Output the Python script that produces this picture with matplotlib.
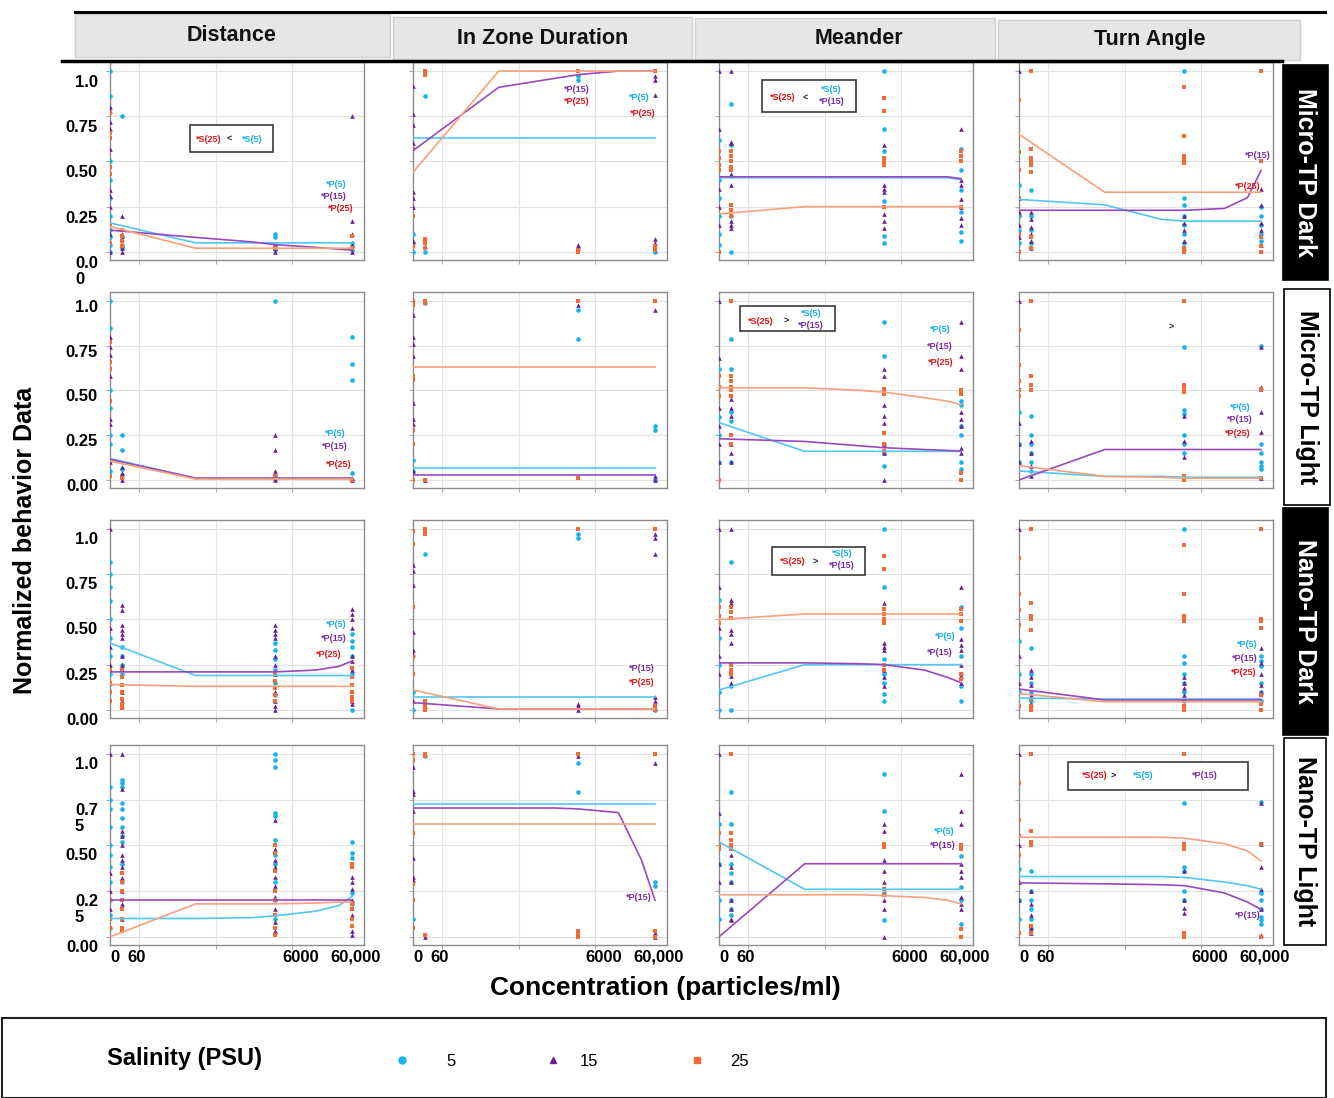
import matplotlib
matplotlib.use("Agg")
import matplotlib.pyplot as plt
import matplotlib.transforms as mtransforms
from matplotlib.patches import Rectangle
from matplotlib.lines import Line2D
from matplotlib.ticker import FixedLocator, NullLocator

plt.rcParams['font.family'] = ['Liberation Sans', 'DejaVu Sans']

W, H = 1334, 1098

# concentrations (particles/ml)
conc = [0, 60, 6000, 60000]
x_ticklabels = ['0', '60', '6000', '60,000']
# x where the fitted curves are read
fit_x = [0, 550, 3000, 6000, 20000, 40000, 60000]

salinity = [5, 15, 25]
rows = ['md', 'ml', 'nd', 'nl']
cols = ['dist', 'izd', 'mea', 'turn']
row_names = ['Micro-TP Dark', 'Micro-TP Light', 'Nano-TP Dark', 'Nano-TP Light']
col_names = ['Distance', 'In Zone Duration', 'Meander', 'Turn Angle']

# ---- points: one list per concentration (0, 60, 6000, 60000) ----
# Micro-TP Dark
md_dist_s5 = [[1.0, 0.86, 0.5, 0.4, 0.3, 0.2, 0.12, 0.08, 0.04, 0.0], [0.75, 0.08, 0.04, 0.02], [0.1, 0.08, 0.03, 0.01], [0.05, 0.03, 0.01]]
md_dist_s15 = [[0.8, 0.78, 0.72, 0.68, 0.57, 0.34, 0.31, 0.25, 0.1, 0.0], [0.2, 0.1, 0.07, 0.04, 0.02, 0.0], [0.04, 0.02, 0.0], [0.75, 0.17, 0.1, 0.04, 0.0]]
md_dist_s25 = [[0.77, 0.66, 0.63, 0.47, 0.43, 0.15, 0.05], [0.12, 0.09, 0.06, 0.03], [0.02], [0.09, 0.02]]
md_izd_s5 = [[0.1, 0.05, 0.0], [0.86, 0.0], [0.97, 0.95], [0.0]]
md_izd_s15 = [[0.92, 0.76, 0.7, 0.6, 0.33, 0.3, 0.25, 0.06], [0.03], [0.04, 0.03, 0.02], [0.97, 0.95, 0.87, 0.07, 0.05]]
md_izd_s25 = [[0.57, 0.2, 0.03], [1.0, 0.99, 0.98, 0.07, 0.05, 0.02], [1.0, 0.01, 0.0], [1.0, 0.03, 0.01]]
md_mea_s5 = [[0.62, 0.4, 0.3, 0.2, 0.1, 0.04], [0.82, 0.59, 0.2, 0.0], [1.0, 0.68, 0.56, 0.28, 0.09, 0.05], [0.57, 0.45, 0.34, 0.22, 0.11, 0.06]]
md_mea_s15 = [[1.0, 0.68, 0.35, 0.25, 0.15], [1.0, 0.61, 0.6, 0.43, 0.37, 0.17, 0.15, 0.13], [0.59, 0.37, 0.35, 0.33, 0.21, 0.17, 0.13], [0.68, 0.4, 0.37, 0.29, 0.25, 0.19, 0.15]]
md_mea_s25 = [[0.56, 0.52, 0.48, 0.45, 0.0], [0.56, 0.53, 0.5, 0.47, 0.45, 0.26, 0.23, 0.2], [0.85, 0.78, 0.52, 0.5, 0.48, 0.25], [0.56, 0.53, 0.5, 0.25]]
md_turn_s5 = [[0.37, 0.2, 0.12, 0.05], [0.34, 0.2, 0.12, 0.05], [1.0, 0.3, 0.26, 0.2, 0.15, 0.1, 0.05], [0.25, 0.2, 0.15, 0.1, 0.06]]
md_turn_s15 = [[1.0, 0.3, 0.22, 0.15, 0.08], [0.22, 0.18, 0.14, 0.1, 0.06, 0.02], [0.2, 0.16, 0.12, 0.06, 0.02], [0.35, 0.26, 0.16, 0.12, 0.04]]
md_turn_s25 = [[0.84, 0.55, 0.45, 0.3, 0.1, 0.0], [1.0, 0.57, 0.52, 0.5, 0.48, 0.44, 0.08, 0.02], [0.91, 0.64, 0.53, 0.51, 0.49, 0.02, 0.0], [1.0, 0.5, 0.08, 0.03, 0.0]]
# Micro-TP Light
ml_dist_s5 = [[1.0, 0.85, 0.5, 0.4, 0.25, 0.2, 0.05], [0.25, 0.17, 0.06, 0.03], [1.0, 0.03], [0.8, 0.65, 0.56, 0.04, 0.0]]
ml_dist_s15 = [[0.8, 0.74, 0.7, 0.58, 0.34, 0.31, 0.1], [0.07, 0.04, 0.02, 0.0], [0.25, 0.17, 0.05, 0.03, 0.01, 0.0], [0.01, 0.0]]
ml_dist_s25 = [[0.77, 0.66, 0.62, 0.44, 0.02], [0.01], [0.02], [0.0]]
ml_izd_s5 = [[0.11, 0.05], [0.99], [0.95, 0.79], [0.3, 0.28, 0.0]]
ml_izd_s15 = [[0.92, 0.8, 0.76, 0.69, 0.43, 0.34, 0.31, 0.05], [0.0], [0.98], [0.95, 0.02, 0.0]]
ml_izd_s25 = [[1.0, 0.98, 0.58, 0.56, 0.28, 0.2, 0.0], [1.0, 0.99, 0.0], [1.0, 0.01], [1.0]]
ml_mea_s5 = [[0.62, 0.35, 0.25, 0.1], [0.79, 0.62, 0.38, 0.33, 0.1], [0.88, 0.69, 0.2, 0.15, 0.08], [0.44, 0.42, 0.3, 0.25, 0.1, 0.06]]
ml_mea_s15 = [[1.0, 0.68, 0.4, 0.3, 0.2, 0.1], [0.45, 0.4, 0.36, 0.2, 0.15, 0.1], [0.62, 0.58, 0.42, 0.36, 0.32, 0.2, 0.15, 0.0], [0.88, 0.69, 0.62, 0.38, 0.34, 0.3, 0.18, 0.15]]
ml_mea_s25 = [[0.58, 0.52, 0.47, 0.0], [1.0, 0.58, 0.55, 0.52, 0.5, 0.47, 0.25, 0.2], [0.51, 0.5, 0.48, 0.26, 0.2, 0.16], [0.5, 0.48, 0.04, 0.0]]
ml_turn_s5 = [[0.38, 0.2, 0.1], [0.36, 0.25, 0.2, 0.15, 0.1, 0.05], [0.74, 0.39, 0.37, 0.25, 0.2, 0.15], [0.75, 0.2, 0.15, 0.1, 0.08, 0.06]]
ml_turn_s15 = [[1.0, 0.32, 0.2, 0.1], [0.22, 0.15, 0.08, 0.02], [0.36, 0.22, 0.13], [0.74, 0.52, 0.38, 0.27, 0.01]]
ml_turn_s25 = [[0.84, 0.64, 0.55, 0.5, 0.47], [1.0, 0.58, 0.53, 0.5], [1.0, 0.53, 0.51, 0.49, 0.02, 0.0], [0.51, 0.5, 0.01]]
# Nano-TP Dark
nd_dist_s5 = [[0.82, 0.75, 0.68, 0.6, 0.5, 0.4, 0.3, 0.2], [0.35, 0.3, 0.25, 0.2], [0.37, 0.33, 0.28, 0.22, 0.15, 0.08], [0.42, 0.38, 0.35, 0.3, 0.2, 0.0]]
nd_dist_s15 = [[1.0, 0.45, 0.35, 0.25, 0.15], [0.58, 0.55, 0.47, 0.44, 0.42, 0.4, 0.3, 0.25, 0.1, 0.05, 0.02], [0.47, 0.44, 0.42, 0.4, 0.3, 0.25, 0.2, 0.1, 0.05, 0.02, 0.0], [0.56, 0.53, 0.5, 0.45, 0.3, 0.27, 0.22, 0.05, 0.03]]
nd_dist_s25 = [[0.22, 0.15, 0.1, 0.05], [0.22, 0.18, 0.14, 0.1, 0.06, 0.03, 0.01], [0.2, 0.16, 0.12, 0.08, 0.05], [0.23, 0.18, 0.14, 0.1, 0.07, 0.05]]
nd_izd_s5 = [[0.1, 0.0], [0.86], [0.97, 0.95], [0.0]]
nd_izd_s15 = [[0.8, 0.77, 0.69, 0.43, 0.33, 0.31, 0.05], [0.02], [0.03, 0.02, 0.0], [0.97, 0.95, 0.86, 0.07, 0.05]]
nd_izd_s25 = [[0.99, 0.92, 0.57, 0.29, 0.2], [1.0, 0.99, 0.98, 0.97, 0.05, 0.02, 0.0], [1.0], [1.0, 0.02, 0.0]]
nd_mea_s5 = [[0.61, 0.4, 0.25, 0.1, 0.0], [0.82, 0.13, 0.0], [1.0, 0.68, 0.28, 0.2, 0.15, 0.09, 0.05], [0.57, 0.45, 0.3, 0.2, 0.13, 0.05]]
nd_mea_s15 = [[1.0, 0.68, 0.45, 0.3, 0.2], [1.0, 0.61, 0.59, 0.44, 0.42, 0.37, 0.19, 0.15], [0.59, 0.37, 0.35, 0.33, 0.22, 0.18, 0.13], [0.68, 0.39, 0.36, 0.33, 0.25, 0.19, 0.15]]
nd_mea_s25 = [[0.57, 0.52, 0.48], [0.57, 0.54, 0.51, 0.25, 0.22, 0.2], [0.85, 0.78, 0.56, 0.53, 0.5, 0.48, 0.25, 0.22], [0.56, 0.53, 0.49, 0.2, 0.17]]
nd_turn_s5 = [[0.38, 0.2, 0.1], [0.34, 0.2, 0.15, 0.1, 0.05], [1.0, 0.3, 0.26, 0.2, 0.15, 0.1, 0.05], [0.3, 0.27, 0.24, 0.15, 0.1, 0.05]]
nd_turn_s15 = [[1.0, 0.3, 0.15], [0.22, 0.18, 0.14, 0.08, 0.03], [0.18, 0.15, 0.12, 0.08], [0.34, 0.26, 0.2, 0.14, 0.1]]
nd_turn_s25 = [[0.84, 0.64, 0.55, 0.47, 0.02], [1.0, 0.59, 0.52, 0.5, 0.44, 0.06, 0.02, 0.0], [0.91, 0.64, 0.52, 0.5, 0.49, 0.05, 0.02, 0.0], [1.0, 0.5, 0.49, 0.45, 0.08, 0.03, 0.0]]
# Nano-TP Light
nl_dist_s5 = [[0.82, 0.75, 0.7, 0.6, 0.5, 0.45, 0.38, 0.3, 0.2, 0.12, 0.05], [0.86, 0.84, 0.82, 0.73, 0.7, 0.65, 0.6, 0.55, 0.52, 0.4, 0.3], [1.0, 0.97, 0.93, 0.68, 0.66, 0.53, 0.45, 0.4, 0.3, 0.2, 0.1], [0.52, 0.46, 0.43, 0.24, 0.18]]
nl_dist_s15 = [[1.0, 0.35, 0.25, 0.15], [1.0, 0.81, 0.58, 0.55, 0.5, 0.45, 0.42, 0.38, 0.32, 0.25, 0.18, 0.1, 0.04], [0.64, 0.48, 0.42, 0.38, 0.33, 0.28, 0.22, 0.15, 0.08, 0.03], [0.33, 0.3, 0.26, 0.2, 0.12, 0.03, 0.01]]
nl_dist_s25 = [[0.2, 0.1, 0.05], [0.35, 0.3, 0.25, 0.2, 0.15, 0.1, 0.05, 0.03], [0.5, 0.46, 0.36, 0.25, 0.2, 0.12, 0.05, 0.01], [0.4, 0.38, 0.18, 0.15, 0.1, 0.06]]
nl_izd_s5 = [[0.1], [0.99], [0.95, 0.79], [0.3, 0.28]]
nl_izd_s15 = [[0.93, 0.8, 0.78, 0.69, 0.43, 0.33, 0.31], [0.0], [0.99], [0.95, 0.02, 0.0]]
nl_izd_s25 = [[1.0, 0.97, 0.57, 0.29, 0.2, 0.05], [1.0, 0.99, 0.01], [1.0, 0.03, 0.01, 0.0], [1.0, 0.03, 0.0]]
nl_mea_s5 = [[0.62, 0.4, 0.2, 0.1], [0.79, 0.62, 0.4, 0.35, 0.3, 0.2, 0.15, 0.12], [0.89, 0.69, 0.24, 0.09], [0.44, 0.27, 0.2, 0.07]]
nl_mea_s15 = [[1.0, 0.68, 0.4, 0.3], [0.45, 0.38, 0.3, 0.2, 0.15, 0.1, 0.09], [0.62, 0.58, 0.42, 0.36, 0.3, 0.2, 0.15, 0.0], [0.89, 0.69, 0.62, 0.4, 0.36, 0.33, 0.22, 0.18, 0.15]]
nl_mea_s25 = [[0.57, 0.5, 0.48], [1.0, 0.57, 0.53, 0.5, 0.48], [0.51, 0.49, 0.26, 0.23], [0.5, 0.48, 0.04, 0.0]]
nl_turn_s5 = [[0.37, 0.2, 0.1], [0.36, 0.25, 0.2, 0.15, 0.1, 0.05], [0.73, 0.38, 0.36, 0.25, 0.2], [0.74, 0.24, 0.2, 0.15, 0.11, 0.09, 0.07]]
nl_turn_s15 = [[1.0, 0.5, 0.3, 0.2], [0.25, 0.18, 0.12, 0.05, 0.02], [0.36, 0.2, 0.16, 0.13], [0.73, 0.51, 0.38, 0.26, 0.15, 0.01]]
nl_turn_s25 = [[0.84, 0.64, 0.55, 0.45, 0.02], [1.0, 0.58, 0.52, 0.5, 0.06, 0.02], [1.0, 0.51, 0.5, 0.48, 0.02, 0.0], [0.51, 0.0]]

# ---- fitted curves at fit_x ----
md_dist_f5 = [0.16, 0.05, 0.05, 0.05, 0.05, 0.05, 0.05]
md_dist_f15 = [0.12, 0.08, 0.055, 0.04, 0.025, 0.015, 0.01]
md_dist_f25 = [0.14, 0.02, 0.02, 0.02, 0.02, 0.02, 0.02]
md_izd_f5 = [0.63, 0.63, 0.63, 0.63, 0.63, 0.63, 0.63]
md_izd_f15 = [0.56, 0.91, 0.96, 0.98, 1.0, 1.0, 1.0]
md_izd_f25 = [0.44, 1.0, 1.0, 1.0, 1.0, 1.0, 1.0]
md_mea_f5 = [0.41, 0.41, 0.41, 0.41, 0.41, 0.41, 0.40]
md_mea_f15 = [0.415, 0.415, 0.415, 0.415, 0.415, 0.415, 0.405]
md_mea_f25 = [0.21, 0.25, 0.25, 0.25, 0.25, 0.25, 0.25]
md_turn_f5 = [0.29, 0.26, 0.18, 0.17, 0.17, 0.17, 0.17]
md_turn_f15 = [0.23, 0.23, 0.23, 0.23, 0.24, 0.30, 0.45]
md_turn_f25 = [0.65, 0.33, 0.33, 0.33, 0.33, 0.33, 0.33]
ml_dist_f5 = [0.12, 0.01, 0.01, 0.01, 0.01, 0.01, 0.01]
ml_dist_f15 = [0.115, 0.01, 0.01, 0.01, 0.01, 0.01, 0.01]
ml_dist_f25 = [0.105, 0.005, 0.005, 0.005, 0.005, 0.005, 0.005]
ml_izd_f5 = [0.065, 0.065, 0.065, 0.065, 0.065, 0.065, 0.065]
ml_izd_f15 = [0.025, 0.025, 0.025, 0.025, 0.025, 0.025, 0.025]
ml_izd_f25 = [0.63, 0.63, 0.63, 0.63, 0.63, 0.63, 0.63]
ml_mea_f5 = [0.32, 0.16, 0.16, 0.16, 0.16, 0.16, 0.16]
ml_mea_f15 = [0.23, 0.215, 0.19, 0.18, 0.17, 0.165, 0.16]
ml_mea_f25 = [0.515, 0.515, 0.5, 0.49, 0.46, 0.44, 0.42]
ml_turn_f5 = [0.05, 0.02, 0.02, 0.015, 0.015, 0.015, 0.015]
ml_turn_f15 = [0.0, 0.17, 0.17, 0.17, 0.17, 0.17, 0.17]
ml_turn_f25 = [0.08, 0.02, 0.015, 0.01, 0.01, 0.01, 0.01]
nd_dist_f5 = [0.37, 0.19, 0.19, 0.19, 0.19, 0.19, 0.19]
nd_dist_f15 = [0.21, 0.21, 0.21, 0.21, 0.22, 0.24, 0.27]
nd_dist_f25 = [0.14, 0.13, 0.13, 0.13, 0.13, 0.13, 0.13]
nd_izd_f5 = [0.07, 0.07, 0.07, 0.07, 0.07, 0.07, 0.07]
nd_izd_f15 = [0.04, 0.005, 0.005, 0.005, 0.005, 0.005, 0.005]
nd_izd_f25 = [0.11, 0.005, 0.005, 0.005, 0.005, 0.005, 0.005]
nd_mea_f5 = [0.11, 0.25, 0.25, 0.25, 0.25, 0.25, 0.25]
nd_mea_f15 = [0.26, 0.26, 0.255, 0.25, 0.22, 0.18, 0.15]
nd_mea_f25 = [0.5, 0.53, 0.53, 0.53, 0.53, 0.53, 0.53]
nd_turn_f5 = [0.065, 0.06, 0.06, 0.06, 0.06, 0.06, 0.06]
nd_turn_f15 = [0.115, 0.055, 0.055, 0.055, 0.055, 0.055, 0.055]
nd_turn_f25 = [0.09, 0.045, 0.045, 0.045, 0.045, 0.045, 0.045]
nl_dist_f5 = [0.10, 0.10, 0.105, 0.115, 0.14, 0.17, 0.22]
nl_dist_f15 = [0.2, 0.2, 0.2, 0.2, 0.2, 0.2, 0.2]
nl_dist_f25 = [0.0, 0.18, 0.18, 0.18, 0.185, 0.19, 0.19]
nl_izd_f5 = [0.725, 0.725, 0.725, 0.725, 0.725, 0.725, 0.725]
nl_izd_f15 = [0.705, 0.705, 0.705, 0.70, 0.68, 0.42, 0.2]
nl_izd_f25 = [0.62, 0.62, 0.62, 0.62, 0.62, 0.62, 0.62]
nl_mea_f5 = [0.52, 0.26, 0.26, 0.26, 0.26, 0.26, 0.26]
nl_mea_f15 = [0.0, 0.4, 0.4, 0.4, 0.4, 0.4, 0.4]
nl_mea_f25 = [0.23, 0.23, 0.23, 0.225, 0.215, 0.2, 0.18]
nl_turn_f5 = [0.33, 0.33, 0.33, 0.325, 0.3, 0.28, 0.26]
nl_turn_f15 = [0.295, 0.29, 0.285, 0.28, 0.24, 0.19, 0.15]
nl_turn_f25 = [0.545, 0.545, 0.545, 0.54, 0.51, 0.47, 0.415]

# significance notes (axes fraction x, y, text, colour key)
notes = {
    ('md', 'dist'): [(0.89, 0.38, '*P(5)', 'b'), (0.88, 0.32, '*P(15)', 'p'), (0.91, 0.26, '*P(25)', 'r'),
                     (0.39, 0.61, '*S(25)', 'r'), (0.47, 0.61, '<', 'k'), (0.56, 0.61, '*S(5)', 'b')],
    ('md', 'izd'): [(0.645, 0.86, '*P(15)', 'p'), (0.645, 0.80, '*P(25)', 'r'), (0.89, 0.82, '*P(5)', 'b'), (0.905, 0.74, '*P(25)', 'r')],
    ('md', 'mea'): [(0.25, 0.82, '*S(25)', 'r'), (0.34, 0.82, '<', 'k'), (0.44, 0.86, '*S(5)', 'b'), (0.445, 0.80, '*P(15)', 'p')],
    ('md', 'turn'): [(0.94, 0.53, '*P(15)', 'p'), (0.90, 0.37, '*P(25)', 'r')],
    ('ml', 'dist'): [(0.885, 0.28, '*P(5)', 'b'), (0.885, 0.21, '*P(15)', 'p'), (0.90, 0.12, '*P(25)', 'r')],
    ('ml', 'mea'): [(0.165, 0.85, '*S(25)', 'r'), (0.264, 0.85, '>', 'k'), (0.362, 0.89, '*S(5)', 'b'), (0.362, 0.83, '*P(15)', 'p'),
                    (0.87, 0.81, '*P(5)', 'b'), (0.87, 0.72, '*P(15)', 'p'), (0.874, 0.64, '*P(25)', 'r')],
    ('ml', 'turn'): [(0.60, 0.82, '>', 'k'), (0.87, 0.41, '*P(5)', 'b'), (0.87, 0.35, '*P(15)', 'p'), (0.86, 0.28, '*P(25)', 'r')],
    ('nd', 'dist'): [(0.89, 0.47, '*P(5)', 'b'), (0.88, 0.40, '*P(15)', 'p'), (0.86, 0.32, '*P(25)', 'r')],
    ('nd', 'izd'): [(0.90, 0.25, '*P(15)', 'p'), (0.90, 0.18, '*P(25)', 'r')],
    ('nd', 'mea'): [(0.29, 0.79, '*S(25)', 'r'), (0.38, 0.79, '>', 'k'), (0.485, 0.83, '*S(5)', 'b'), (0.485, 0.77, '*P(15)', 'p'),
                    (0.89, 0.41, '*P(5)', 'b'), (0.87, 0.33, '*P(15)', 'p')],
    ('nd', 'turn'): [(0.90, 0.37, '*P(5)', 'b'), (0.89, 0.30, '*P(15)', 'p'), (0.885, 0.23, '*P(25)', 'r')],
    ('nl', 'izd'): [(0.89, 0.235, '*P(15)', 'p')],
    ('nl', 'mea'): [(0.885, 0.565, '*P(5)', 'b'), (0.88, 0.495, '*P(15)', 'p')],
    ('nl', 'turn'): [(0.30, 0.845, '*S(25)', 'r'), (0.37, 0.845, '>', 'k'), (0.49, 0.845, '*S(5)', 'b'), (0.73, 0.845, '*P(15)', 'p'),
                     (0.90, 0.15, '*P(15)', 'p')],
}
boxes = {('md', 'dist'): (0.315, 0.545, 0.327, 0.136), ('md', 'mea'): (0.17, 0.75, 0.37, 0.16),
         ('ml', 'mea'): (0.083, 0.80, 0.374, 0.13), ('nd', 'mea'): (0.21, 0.72, 0.365, 0.144),
         ('nl', 'turn'): (0.193, 0.775, 0.707, 0.14)}

pt_color = {5: '#17b3ea', 15: '#6b1f94', 25: '#f46a36'}
fit_color = {5: '#52c7f2', 15: '#9a48be', 25: '#f8a07c'}
pt_marker = {5: 'o', 15: '^', 25: 's'}
note_color = {'r': '#e3141c', 'b': '#19aeea', 'p': '#7a2fa6', 'k': '#222222'}

col_left = [110, 413, 719, 1019]
row_top = [62, 292, 520, 745]
row_bot = [260, 488, 718, 945]
ylabel_sets = [['0.0\n0', '0.25', '0.50', '0.75', '1.0'],
               ['0.00', '0.25', '0.50', '0.75', '1.0'],
               ['0.00', '0.25', '0.50', '0.75', '1.0'],
               ['0.00', '0.2\n5', '0.50', '0.7\n5', '1.0']]
ylabel_shift = [9, 4, 8, 8]
xlabel_shift = [5, 15, 25, 4]

fig = plt.figure(figsize=(W / 100, H / 100), dpi=100)


def px(dx, dy):
    return mtransforms.ScaledTranslation(dx / 100, dy / 100, fig.dpi_scale_trans)


for i, r in enumerate(rows):
    for j, c in enumerate(cols):
        ax = fig.add_axes([col_left[j] / W, 1 - row_bot[i] / H, 254 / W, (row_bot[i] - row_top[i]) / H])
        ax.set_xscale('symlog', linthresh=60, linscale=0.14)
        ax.set_xlim(0, 86000)
        ax.set_ylim(-0.045, 1.05)
        ax.xaxis.set_major_locator(FixedLocator([100, 1000, 10000]))
        ax.xaxis.set_minor_locator(NullLocator())
        ax.yaxis.set_major_locator(FixedLocator([0, 0.25, 0.5, 0.75, 1.0]))
        ax.set_xticklabels([])
        ax.set_yticklabels([])
        ax.tick_params(length=3, width=0.6, color='#999999')
        ax.grid(True, color='#e2e2e2', lw=0.8)
        ax.set_axisbelow(True)
        for sp in ax.spines.values():
            sp.set_color('#8c8c8c')
            sp.set_linewidth(1.0)

        for s in salinity:
            pts = globals()[f'{r}_{c}_s{s}']
            xs = [conc[k] for k in range(4) for _ in pts[k]]
            ys = [v for k in range(4) for v in pts[k]]
            ax.scatter(xs, ys, s=11, marker=pt_marker[s], color=pt_color[s], lw=0, zorder=3)
        for s in salinity:
            ax.plot(fit_x, globals()[f'{r}_{c}_f{s}'], color=fit_color[s], lw=1.2, zorder=4)

        if (r, c) in boxes:
            bx, by, bw, bh = boxes[(r, c)]
            ax.add_patch(Rectangle((bx, by), bw, bh, transform=ax.transAxes, facecolor='white',
                                   edgecolor='#3a3a3a', lw=1.2, zorder=5))
        for tx, ty, t, ck in notes.get((r, c), []):
            ax.text(tx, ty, t, transform=ax.transAxes, color=note_color[ck], fontsize=6.5,
                    fontweight='bold', ha='center', va='center', zorder=6)

        if j == 0:
            for yv, lab in zip([0, 0.25, 0.5, 0.75, 1.0], ylabel_sets[i]):
                ax.text(0, yv, lab, transform=ax.get_yaxis_transform() + px(-12, 5 - ylabel_shift[i]),
                        ha='right', va='top', multialignment='left', fontsize=12, fontweight='bold',
                        linespacing=1.1)
        if i == 3:
            for k, (xv, lab) in enumerate(zip(conc, x_ticklabels)):
                ax.text(xv, 0, lab, transform=ax.get_xaxis_transform() + px(xlabel_shift[k], -5),
                        ha='center', va='top', fontsize=12, fontweight='bold')

# top rules
fig.add_artist(Line2D([75 / W, 1325 / W], [1 - 12 / H, 1 - 12 / H], color='black', lw=2.2))
fig.add_artist(Line2D([62 / W, 1282 / W], [1 - 61 / H, 1 - 61 / H], color='black', lw=2.5))

# column headers
head_box = [(75, 14, 390, 57), (393, 17, 692, 60), (695, 18, 995, 60), (998, 20, 1300, 60)]
head_x = [232, 543, 859, 1150]
for name, (x0, y0, x1, y1), hx in zip(col_names, head_box, head_x):
    fig.add_artist(Rectangle((x0 / W, 1 - y1 / H), (x1 - x0) / W, (y1 - y0) / H, transform=fig.transFigure,
                             facecolor='#e6e6e6', edgecolor='#d0d0d0', lw=1))
    fig.text(hx / W, 1 - (y0 + y1) / 2 / H, name, ha='center', va='center',
             fontsize=15.5, fontweight='bold', color='#111111')

# row labels
row_box = [(1283, 65, 1328, 280, 'black'), (1284, 289, 1330, 505, 'white'),
           (1283, 508, 1328, 735, 'black'), (1284, 738, 1326, 945, 'white')]
for name, (x0, y0, x1, y1, fc) in zip(row_names, row_box):
    fig.add_artist(Rectangle((x0 / W, 1 - y1 / H), (x1 - x0) / W, (y1 - y0) / H, transform=fig.transFigure,
                             facecolor=fc, edgecolor='black', lw=1.2))
    fig.text((x0 + x1) / 2 / W, 1 - (y0 + y1) / 2 / H, name, ha='center', va='center', rotation=-90,
             fontsize=18, fontweight='bold', color='white' if fc == 'black' else 'black')

fig.text(25 / W, 1 - 540 / H, 'Normalized behavior Data', rotation=90, ha='center', va='center',
         fontsize=18, fontweight='bold')
fig.text(665 / W, 1 - 988 / H, 'Concentration (particles/ml)', ha='center', va='center',
         fontsize=19, fontweight='bold')

# legend
fig.add_artist(Rectangle((2 / W, 0), 1324 / W, 80 / H, transform=fig.transFigure,
                         facecolor='white', edgecolor='#222222', lw=1.5))
fig.text(107 / W, 1 - 1058 / H, 'Salinity (PSU)', ha='left', va='center', fontsize=17, fontweight='bold')
for s, mx, tx in zip(salinity, [402, 553, 697], [446, 580, 730]):
    fig.add_artist(Line2D([mx / W], [1 - 1060 / H], marker=pt_marker[s], color=pt_color[s], ms=5, lw=0,
                          transform=fig.transFigure))
    fig.text(tx / W, 1 - 1061 / H, str(s), ha='left', va='center', fontsize=12)

fig.savefig('out.png', dpi=100)
